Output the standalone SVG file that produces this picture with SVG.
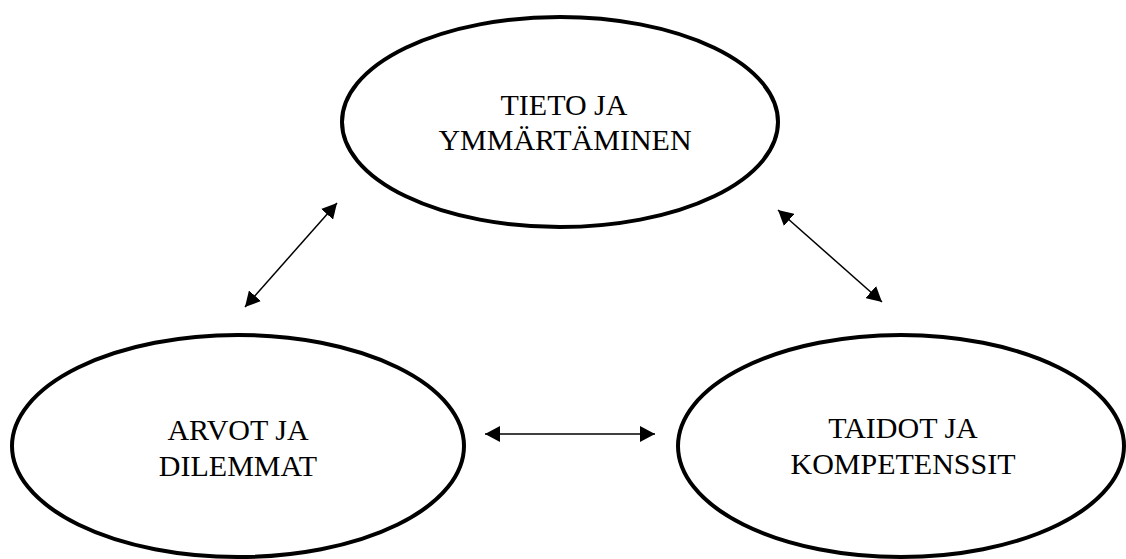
<svg xmlns="http://www.w3.org/2000/svg" width="1126" height="559" viewBox="0 0 1126 559">
<style>
.node{fill:#fff;stroke:#000;stroke-width:4}
.lbl{font-family:"Liberation Serif","Times New Roman",serif;font-size:30px;fill:#000;text-anchor:middle}
.conn{stroke:#000;stroke-width:1.5;fill:none}
</style>
<defs>
<marker id="ah" markerUnits="userSpaceOnUse" markerWidth="16" markerHeight="16" viewBox="0 0 16 16" refX="15" refY="8" orient="auto-start-reverse">
<path d="M0,0 L15,8 L0,16 z" fill="#000"/>
</marker>
</defs>
<rect width="1126" height="559" fill="#fff"/>
<g id="node-tieto">
<ellipse class="node" cx="560" cy="122" rx="218" ry="105"/>
<text class="lbl" x="564" y="115">TIETO JA</text>
<text class="lbl" x="565" y="150">YMMÄRTÄMINEN</text>
</g>
<g id="node-arvot">
<ellipse class="node" cx="238" cy="446" rx="226" ry="111"/>
<text class="lbl" x="238" y="440">ARVOT JA</text>
<text class="lbl" x="238" y="476">DILEMMAT</text>
</g>
<g id="node-taidot">
<ellipse class="node" cx="901" cy="446" rx="223" ry="111"/>
<text class="lbl" x="903" y="438">TAIDOT JA</text>
<text class="lbl" x="903" y="474">KOMPETENSSIT</text>
</g>
<g id="connectors">
<line class="conn" x1="245" y1="307" x2="337" y2="203" marker-start="url(#ah)" marker-end="url(#ah)"/>
<line class="conn" x1="778" y1="210" x2="882" y2="302" marker-start="url(#ah)" marker-end="url(#ah)"/>
<line class="conn" x1="485" y1="434" x2="655" y2="434" marker-start="url(#ah)" marker-end="url(#ah)"/>
</g>
</svg>
